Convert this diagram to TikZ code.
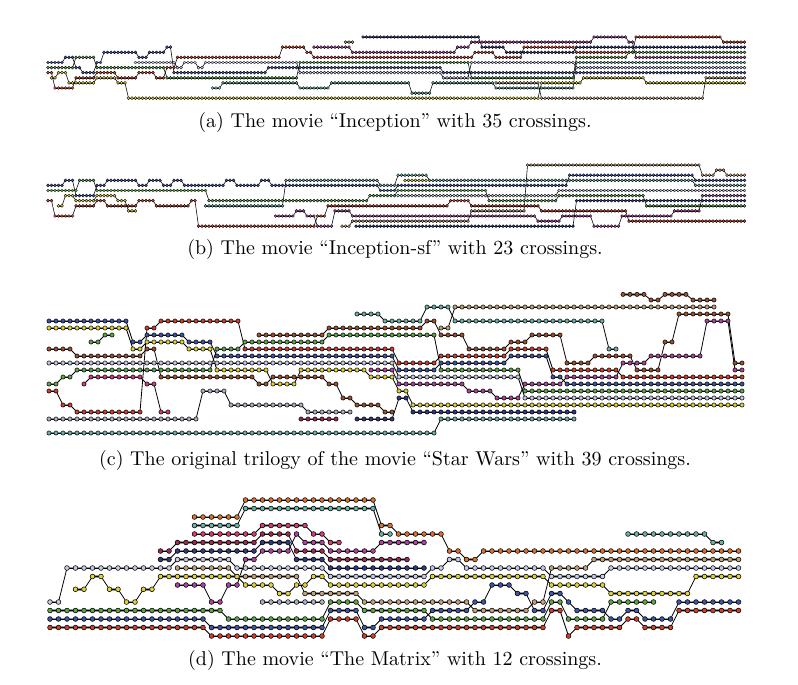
\documentclass[tikz,border=0pt]{standalone}
\pgfdeclarelayer{bgl}
\pgfdeclarelayer{lines}
\pgfsetlayers{bgl,lines,main}
\definecolor{cyel}{HTML}{E2D432}
\definecolor{ctan}{HTML}{C4A27A}
\definecolor{cred}{HTML}{D2402C}
\definecolor{cblue}{HTML}{3E56A6}
\definecolor{cnavy}{HTML}{2F3B80}
\definecolor{cgreen}{HTML}{5CA845}
\definecolor{cteal}{HTML}{6BB2AA}
\definecolor{clav}{HTML}{C8CAE8}
\definecolor{cmag}{HTML}{B0449E}
\definecolor{cpink}{HTML}{D83A7A}
\definecolor{cmaroon}{HTML}{A02A52}
\definecolor{corange}{HTML}{E0702E}
\definecolor{cbrown}{HTML}{A0502C}
\definecolor{cgray}{HTML}{B0B0C4}
\tikzset{
  bar/.style={line width=\bw, draw=black!40},
  conn/.style={line width=\cw, draw=black},
  dotline/.style={line width=\dw, draw=black},
  caption/.style={font=\normalsize, inner sep=1pt}
}
\newcommand\storyline[2]{%
  \begin{pgfonlayer}{lines}
  \foreach \a/\b/\r [remember=\b as \pb (initially -1), remember=\r as \pr (initially 0)] in {#2}{%
    \ifnum\pb>-1 \draw[conn] (\pb,\pr) -- (\a,\r);\fi
    \draw[bar] (\a,\r) -- (\b,\r);
    \draw[conn] (\a,\r) -- (\b,\r);
  }%
  \end{pgfonlayer}
  \foreach \a/\b/\r in {#2}{%
    \foreach \c in {\a,...,\b}{\filldraw[fill=#1,dotline] (\c,\r) circle[radius=\dr];}%
  }%
}
\begin{document}
\begin{tikzpicture}[x=0.5pt,y=-0.5pt]
\begin{pgfonlayer}{bgl}
\fill[white] (0,0) rectangle (798,685);
\end{pgfonlayer}
\useasboundingbox (0,0) rectangle (798,685);
% ---------------- panel (a)
\begin{scope}[shift={(24pt,-18.5pt)},x=1.75pt,y=-2.55pt]
\def\dr{0.74pt}\def\bw{0.65pt}\def\cw{0.28pt}\def\dw{0.16pt}
\storyline{cyel}{1/2/8, 3/5/7, 6/13/9, 14/19/8, 20/22/9, 23/140/12, 141/152/9, 153/170/8, 171/199/9}
\storyline{ctan}{128/140/9, 141/187/12, 188/199/8}
\storyline{cred}{0/1/7, 2/7/10, 8/13/8, 14/19/7, 20/25/8, 26/30/7, 31/33/8, 34/36/6, 37/66/4, 67/73/2, 74/75/3, 76/121/4, 122/127/3, 128/135/4, 136/150/2, 151/167/3, 168/192/0, 193/199/1}
\storyline{cblue}{0/4/5, 5/7/4, 8/9/6, 10/13/7, 14/15/5, 16/25/3, 26/28/4, 29/33/3, 34/35/2, 36/62/7, 63/112/6, 113/199/7}
\storyline{cgreen}{0/7/6, 8/13/4, 14/33/6, 34/71/8, 72/120/5, 121/150/8, 151/165/4, 166/199/3}
\storyline{cteal}{47/49/10, 50/71/9, 72/80/10, 81/103/9, 104/109/11, 110/127/9, 128/150/10, 151/199/5}
\storyline{clav}{25/36/5, 37/38/6, 39/42/5, 43/44/6, 45/71/5, 72/112/7, 113/120/8, 121/150/5, 151/199/6}
\storyline{cnavy}{90/123/0, 124/130/2, 131/150/3, 151/199/2}
\storyline{cmag}{76/86/2, 87/116/3, 117/120/2, 121/155/1, 156/165/0, 166/167/1, 168/199/4}
\storyline{ctan}{85/87/1}
\end{scope}
% ---------------- panel (b)
\begin{scope}[shift={(24pt,-82.5pt)},x=1.75pt,y=-2.55pt]
\def\dr{0.74pt}\def\bw{0.65pt}\def\cw{0.28pt}\def\dw{0.16pt}
\storyline{ctan}{84/86/12, 87/120/11, 121/136/9, 137/186/0, 187/190/2, 191/193/1, 194/199/2}
\storyline{cteal}{45/67/8, 68/94/3, 95/99/4, 100/108/2, 109/184/3, 185/199/4}
\storyline{cblue}{0/4/4, 5/7/3, 8/13/6, 14/16/4, 17/25/3, 26/28/4, 29/32/3, 33/35/4, 36/38/3, 39/50/4, 51/53/3, 54/60/4, 61/63/3, 64/94/4, 95/99/5, 100/148/4, 149/184/2, 185/199/3}
\storyline{cgreen}{0/8/5, 9/13/3, 14/45/5, 46/91/7, 92/99/6, 100/125/5, 126/145/7, 146/170/6, 171/199/8}
\storyline{cred}{0/1/7, 2/7/10, 8/13/8, 14/16/7, 17/25/8, 26/30/7, 31/40/8, 41/42/7, 43/76/12, 77/79/10, 80/114/8, 115/120/7, 121/140/8, 141/165/9, 166/199/11}
\storyline{cyel}{3/4/8, 5/7/6, 8/13/7, 14/19/6, 20/22/7, 23/25/9}
\storyline{cyel}{102/108/3}
\storyline{cmag}{65/70/10, 71/73/9, 74/76/10, 77/81/12, 82/86/9, 87/139/10, 140/146/11, 147/155/10, 156/163/12, 164/178/10, 179/186/9, 187/199/6}
\storyline{cnavy}{88/150/12, 151/199/7}
\storyline{clav}{100/145/6, 146/170/5, 171/199/5}
\end{scope}
% ---------------- panel (c)
\begin{scope}[shift={(24.5pt,-150pt)},x=3.5pt,y=-3.5pt]
\def\dr{1.05pt}\def\bw{1.1pt}\def\cw{0.4pt}\def\dw{0.25pt}
\storyline{cblue}{0/11/3, 12/13/6, 14/19/5, 20/23/6, 24/49/8, 50/55/10, 56/65/9, 66/71/8, 72/73/11, 74/99/12}
\storyline{cyel}{0/11/4, 12/13/7, 14/19/6, 20/23/7, 24/31/10, 32/35/12, 36/45/10, 46/49/11, 50/51/13, 52/99/15}
\storyline{cgreen}{6/7/6, 8/9/5}
\storyline{cgreen}{0/1/12, 2/3/11, 4/23/10, 24/27/7, 28/39/6, 40/55/5, 56/67/10, 68/99/13}
\storyline{cred}{0/1/13, 2/3/15, 4/13/16, 14/15/4, 16/27/3, 28/49/7, 50/55/9, 56/65/8, 66/71/7, 72/81/10, 82/99/11}
\storyline{cbrown}{0/3/7, 4/13/8, 14/15/7, 16/29/11, 30/31/12, 32/39/11, 40/41/12, 42/43/14, 44/47/15, 48/49/16}
\storyline{cbrown}{30/39/5, 40/53/4, 54/55/3, 56/59/5, 60/65/7, 66/68/6, 69/73/5, 74/77/9, 78/83/8, 84/87/10, 88/89/6, 90/97/2, 98/99/9}
\storyline{clav}{0/49/9, 50/67/11, 68/99/14}
\storyline{cpink}{5/5/12, 6/13/11, 14/15/12, 16/17/16}
\storyline{cgray}{0/21/17, 22/25/13, 26/36/15, 37/43/16}
\storyline{cmag}{46/49/10, 50/59/12, 60/63/13, 64/67/14, 68/73/12, 74/81/11, 82/85/9, 86/93/8, 94/97/3, 98/99/10}
\storyline{cnavy}{44/49/17, 50/51/14, 52/75/16}
\storyline{cmaroon}{36/41/17}
\storyline{cteal}{44/47/2, 48/53/3, 54/57/1, 58/79/3, 80/81/7}
\storyline{ctan}{56/57/4, 58/95/1}
\storyline{cbrown}{82/85/-0.8, 86/87/0, 88/91/-0.8, 92/95/0}
\storyline{cteal}{0/55/19, 56/75/17}
\end{scope}
% ---------------- panel (d)
\begin{scope}[shift={(25pt,-250pt)},x=4.25pt,y=-4.25pt]
\def\dr{1.2pt}\def\bw{1.3pt}\def\cw{0.4pt}\def\dw{0.28pt}
\storyline{corange}{17/22/2, 23/38/0, 39/40/3, 41/46/4, 47/48/6, 49/50/7, 51/81/6}
\storyline{cteal}{17/22/3, 23/38/1, 39/40/4}
\storyline{cpink}{17/24/4, 25/30/3, 31/32/4, 33/34/5}
\storyline{cmag}{15/18/10, 19/20/12, 21/22/10, 23/24/7, 25/28/6, 29/29/4, 30/32/5, 33/38/6, 39/44/5}
\storyline{cmaroon}{13/14/6, 15/24/5, 25/28/4, 29/32/6, 33/42/7}
\storyline{cnavy}{13/14/7, 15/24/6, 25/28/5, 29/32/7, 33/44/8}
\storyline{clav}{0/1/12, 2/14/8, 15/21/7, 22/32/8, 33/44/9, 45/46/8, 47/48/7, 49/58/8, 59/65/9, 66/81/8}
\storyline{ctan}{15/21/8, 22/29/9, 30/36/11, 37/49/12, 50/56/13, 57/58/12, 59/63/8, 64/81/7}
\storyline{cyel}{3/4/10.5, 5/6/9, 7/8/10.5, 9/10/12, 11/12/10.5, 13/22/9, 23/26/10, 27/28/11, 29/30/10, 31/32/9, 33/44/10, 45/58/9, 59/65/10, 66/75/11, 76/81/9}
\storyline{cgray}{25/32/12}
\storyline{cgreen}{0/20/13, 21/32/14, 33/36/12, 37/44/13, 45/58/14, 59/60/12, 61/65/14, 66/71/12}
\storyline{cblue}{0/18/14, 19/32/15, 33/36/13, 37/38/15, 39/44/14, 45/49/13, 50/51/12, 52/54/10, 55/56/11, 57/58/13, 59/60/11, 61/61/12, 62/65/13, 66/67/14, 68/69/13, 70/73/14, 74/81/12}
\storyline{cred}{0/18/15, 19/32/16, 33/36/14, 37/38/16, 39/58/15, 59/60/13, 61/61/16, 62/67/15, 68/69/14, 70/73/15, 74/81/13}
\storyline{cteal}{68/77/4, 78/79/5}
\end{scope}
% ---------------- captions
\node[caption] (capa) at (395,122) {(a) The movie “Inception” with 35 crossings.};
\node[caption] (capb) at (395,249) {(b) The movie “Inception-sf” with 23 crossings.};
\node[caption] (capc) at (395,460) {(c) The original trilogy of the movie “Star Wars” with 39 crossings.};
\node[caption] (capd) at (395,660) {(d) The movie “The Matrix” with 12 crossings.};
\end{tikzpicture}
\end{document}
